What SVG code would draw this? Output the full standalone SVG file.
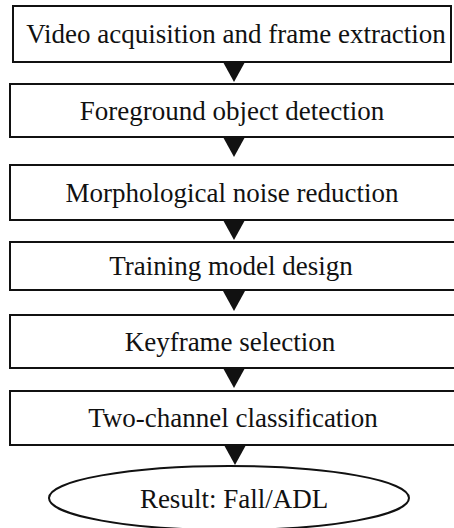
<svg xmlns="http://www.w3.org/2000/svg" width="454" height="528" viewBox="0 0 454 528">
<defs>
<polygon id="arrowhead" points="-11,0 11,0 0,20" fill="#111"/>
</defs>
<rect width="454" height="528" fill="#fff"/>
<g fill="#fff" stroke="#111" stroke-width="2">
<g id="n1"><rect x="13" y="6" width="438" height="56"/><text x="236" y="43" font-family="Liberation Serif" font-size="27" fill="#111" stroke="none" text-anchor="middle">Video acquisition and frame extraction</text></g>
<g id="n2"><rect x="10" y="84" width="460" height="53"/><text x="232" y="120" font-family="Liberation Serif" font-size="27" fill="#111" stroke="none" text-anchor="middle">Foreground object detection</text></g>
<g id="n3"><rect x="10" y="165" width="460" height="55"/><text x="232" y="201.5" font-family="Liberation Serif" font-size="27" fill="#111" stroke="none" text-anchor="middle">Morphological noise reduction</text></g>
<g id="n4"><rect x="10" y="242" width="460" height="48"/><text x="231" y="275" font-family="Liberation Serif" font-size="27" fill="#111" stroke="none" text-anchor="middle">Training model design</text></g>
<g id="n5"><rect x="10" y="315" width="460" height="53"/><text x="230" y="350.5" font-family="Liberation Serif" font-size="27" fill="#111" stroke="none" text-anchor="middle">Keyframe selection</text></g>
<g id="n6"><rect x="10" y="391" width="460" height="54"/><text x="233" y="427" font-family="Liberation Serif" font-size="27" fill="#111" stroke="none" text-anchor="middle">Two-channel classification</text></g>
<g id="n7"><ellipse cx="229" cy="498" rx="180" ry="32"/><text x="234" y="508" font-family="Liberation Serif" font-size="27" fill="#111" stroke="none" text-anchor="middle">Result: Fall/ADL</text></g>
</g>
<g id="connectors">
<use href="#arrowhead" x="234" y="62"/>
<use href="#arrowhead" x="234" y="137" transform="translate(0,0)"/>
<use href="#arrowhead" x="234" y="220"/>
<use href="#arrowhead" x="234" y="291"/>
<use href="#arrowhead" x="234" y="368"/>
<use href="#arrowhead" x="235" y="445"/>
</g>
</svg>
